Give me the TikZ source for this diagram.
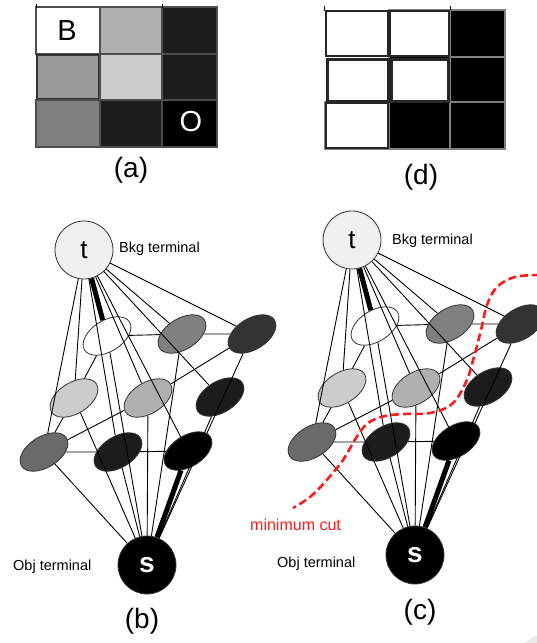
\documentclass[tikz,border=0pt]{standalone}
\usepackage{fontspec}
\setmainfont{Liberation Sans}
\usetikzlibrary{shapes.geometric}

\definecolor{tfill}{HTML}{F0F0F0}
\definecolor{nodeline}{HTML}{333333}
\definecolor{cellline}{HTML}{4D4D4D}
\definecolor{cutred}{HTML}{FF1A1A}
\definecolor{gA}{HTML}{B0B0B0}
\definecolor{gB}{HTML}{1C1C1C}
\definecolor{gC}{HTML}{999999}
\definecolor{gD}{HTML}{CCCCCC}
\definecolor{gE}{HTML}{808080}
\definecolor{gF}{HTML}{6A6A6A}
\definecolor{gG}{HTML}{333333}

\tikzset{
  cellbox/.style={draw=cellline, line width=1.2pt},
  bincell/.style={draw=black!85, line width=2.2pt},
  pix/.style={ellipse, draw=nodeline, line width=0.8pt, minimum width=53pt,
              minimum height=31pt, inner sep=0pt, rotate=32},
  term/.style={circle, draw=nodeline, line width=0.8pt, minimum size=58pt, inner sep=0pt},
  link/.style={line width=0.9pt},
  heavy/.style={line width=5pt},
  sublabel/.style={inner sep=0pt, font=\fontsize{28}{28}\selectfont},
  termlabel/.style={inner sep=0pt, anchor=base west, font=\fontsize{14.5}{15}\selectfont},
  cutline/.style={draw=cutred, line width=2.6pt, dash pattern=on 8pt off 4pt},
}

% one s-t graph over the 3x3 image, in the coordinates of panel (b)
\newcommand\stgraph{%
  \node[term, fill=tfill] (t) at (84,250) {\fontsize{26}{26}\selectfont t};
  \node[term, fill=black] (s) at (147,565) {\color{white}\bfseries\fontsize{28}{28}\selectfont s};
  \node[pix, fill=white] (a1) at (107,336) {};
  \node[pix, fill=gE]    (a2) at (182,334) {};
  \node[pix, fill=gG]    (a3) at (252,334) {};
  \node[pix, fill=gD]    (b1) at (74,398) {};
  \node[pix, fill=gA]    (b2) at (148,398) {};
  \node[pix, fill=gB]    (b3) at (220,397) {};
  \node[pix, fill=gF]    (c1) at (44,452) {};
  \node[pix, fill=gB]    (c2) at (118,452) {};
  \node[pix, fill=black] (c3) at (188,451) {};
  % terminal links
  \draw[heavy] (t) -- (a1);
  \foreach \n in {a2,a3,b1,b2,b3,c1,c2,c3} \draw[link] (t) -- (\n);
  \draw[heavy] (s) -- (c3);
  \foreach \n in {a1,a2,a3,b1,b2,b3,c1,c2} \draw[link] (s) -- (\n);
  % neighbour links
  \draw[link] (a1) -- (a2);
  \draw[link] (a2) -- (a3);
  \draw[link] (a1) -- (b1);
  \draw[link] (b1) -- (c1);
  \draw[link] (a3) -- (b2);
  \draw[link] (b2) -- (c1);
  \draw[link] (c1) -- (c2);
  \draw[link] (c2) -- (c3);
}

\begin{document}
\begin{tikzpicture}[x=1pt, y=-1pt]
  \useasboundingbox (0,0) rectangle (537,643);
  \clip (0,0) rectangle (537,643);
  \fill[white] (0,0) rectangle (537,643);
  \fill[black!8] (560,691) circle (60);

  % (a) grey-level image
  \draw[cellbox, fill=white] (36,7) rectangle (100,54);
  \draw[cellbox, fill=gA]    (100,7) rectangle (162,54);
  \draw[cellbox, fill=gB]    (162,7) rectangle (217,54);
  \draw[cellbox, fill=gC, draw=nodeline, line width=1.6pt] (37,55) rectangle (99,99);
  \draw[cellbox, fill=gD]    (100,54) rectangle (162,100);
  \draw[cellbox, fill=gB]    (162,54) rectangle (217,100);
  \draw[cellbox, fill=gE]    (36,100) rectangle (100,147);
  \draw[cellbox, fill=gB]    (100,100) rectangle (162,147);
  \draw[cellbox, fill=black] (162,100) rectangle (217,147);
  \draw[line width=0.8pt] (36,4) -- (36,8) (162,4) -- (162,8);
  \node[inner sep=0pt, font=\fontsize{29}{29}\selectfont] (lB) at (67,31) {B};
  \node[inner sep=0pt, font=\fontsize{29}{29}\selectfont, text=white] (lO) at (191,122) {O};
  \node[sublabel] (capa) at (131,170) {(a)};

  % (d) segmented image
  \draw[draw=gE, line width=1.2pt, fill=black] (389,10) rectangle (505,149);
  \draw[draw=gE, line width=1.2pt, fill=black] (325,102) rectangle (389,149);
  \draw[draw=gE, line width=1.2pt] (450,10) -- (450,149) (389,102) -- (505,102) (450,57) -- (505,57);
  \draw[bincell, fill=white] (326,11) rectangle (388,56);
  \draw[bincell, fill=white] (390,11) rectangle (449,56);
  \draw[bincell, fill=white, line width=3pt] (327,59) rectangle (388,101);
  \draw[bincell, fill=white, line width=3pt] (391,59) rectangle (448,101);
  \draw[bincell, fill=white] (326,103) rectangle (388,148);
  \draw[line width=0.8pt] (324,6) -- (324,11) (450,6) -- (450,10);
  \node[sublabel] (capd) at (421,177) {(d)};

  % (b) graph
  \begin{scope}[name prefix=b-]
    \stgraph
  \end{scope}
  \node[termlabel] (bkgb) at (119,252) {Bkg terminal};
  \node[termlabel] (objb) at (13,570) {Obj terminal};
  \node[sublabel] (capb) at (142,621) {(b)};

  % (c) graph with the minimum cut
  \begin{scope}[shift={(268,-10)}, name prefix=c-]
    \stgraph
  \end{scope}
  \node[termlabel] (bkgc) at (392,244) {Bkg terminal};
  \node[termlabel] (objc) at (277,567) {Obj terminal};
  \node[sublabel] (capc) at (420,612) {(c)};
  \draw[cutline] plot[smooth, tension=0.6] coordinates {
    (540,275) (515,277) (497,287) (487,305) (481,330) (474,357) (466,382)
    (452,404) (430,413) (405,414) (385,416) (368,423) (356,438) (343,460)
    (325,482) (310,497) (293,508)};
  \node[termlabel, text=cutred, font=\fontsize{16}{16}\selectfont] (cutlab) at (250,530) {minimum cut};
\end{tikzpicture}
\end{document}
